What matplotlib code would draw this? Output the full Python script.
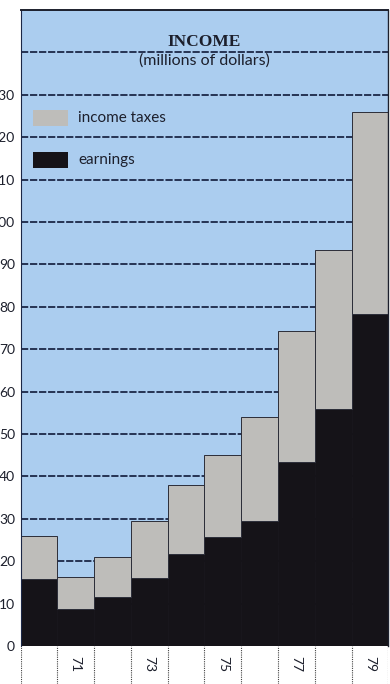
import matplotlib
matplotlib.use("Agg")
import matplotlib.pyplot as plt
from matplotlib.patches import Rectangle
import numpy as np

# Income, millions of dollars, 1970-1979
years = [1970, 1971, 1972, 1973, 1974, 1975, 1976, 1977, 1978, 1979]
earnings = [15.8, 8.8, 11.5, 16.0, 21.8, 25.8, 29.4, 43.4, 55.8, 78.3]
income_taxes = [10.1, 7.5, 9.4, 13.4, 16.2, 19.2, 24.6, 31.0, 37.5, 47.6]
year_labels = ["", "71", "", "73", "", "75", "", "77", "", "79"]
y_ticks = list(range(0, 140, 10))

W, H = 390, 684
BLUE = "#abcdef"
GRAY = "#bebdba"
BLACK = "#151318"
NAVY = "#1b2747"
INK = "#1c1f2c"

fig = plt.figure(figsize=(W / 100, H / 100), dpi=100)
fig.patch.set_facecolor("white")

ax_left, ax_right = 20.5 / W, 388.3 / W
ax_bot, ax_top = (H - 646) / H, (H - 10) / H
ax = fig.add_axes([ax_left, ax_bot, ax_right - ax_left, ax_top - ax_bot])
ax.set_facecolor(BLUE)

x = np.arange(len(years))
ax.set_xlim(-0.5, len(years) - 0.5)
ax.set_ylim(0, 150)

# dashed horizontal rules behind the bars
for v in range(10, 150, 10):
    ax.axhline(v, color=NAVY, lw=1.3, ls=(0, (4, 1)), zorder=1)

ax.bar(x, earnings, width=1.0, color=BLACK, edgecolor=BLACK, lw=0.5, zorder=2)
ax.bar(x, income_taxes, bottom=earnings, width=1.0, color=GRAY,
       edgecolor="#2b2d38", lw=0.7, zorder=2)

ax.set_xticks([])
ax.set_yticks(y_ticks)
ax.set_yticklabels([str(v) for v in y_ticks], fontsize=10, color=INK,
                   family="Lato")
ax.tick_params(axis="y", length=0, pad=4)

ax.spines["top"].set_color(INK)
ax.spines["top"].set_linewidth(1.4)
ax.spines["left"].set_color(NAVY)
ax.spines["left"].set_linewidth(0.8)
ax.spines["left"].set_linestyle((0, (2, 1)))
ax.spines["right"].set_color(INK)
ax.spines["right"].set_linewidth(1.0)
ax.spines["bottom"].set_visible(False)

# title
ax.text(0.5, 140.6, "INCOME", transform=ax.get_yaxis_transform(),
        ha="center", va="bottom", fontsize=12.5, fontweight="bold",
        family="Liberation Serif", color=INK, zorder=3)
ax.text(0.5, 138.0, "(millions of dollars)", transform=ax.get_yaxis_transform(),
        ha="center", va="center", fontsize=11.5, family="Lato", color=INK,
        zorder=3)

# legend
def legend_entry(y_px, color, label):
    fig.add_artist(Rectangle((33 / W, (H - y_px - 8) / H), 35 / W, 16 / H,
                             transform=fig.transFigure, facecolor=color,
                             edgecolor="none"))
    fig.text(78 / W, (H - y_px) / H, label, ha="left", va="center",
             fontsize=11, family="Lato", color=INK)

legend_entry(118, GRAY, "income taxes")
legend_entry(160, BLACK, "earnings")

# year strip beneath the bars
axx = fig.add_axes([ax_left, 0, ax_right - ax_left, ax_bot])
axx.set_xlim(-0.5, len(years) - 0.5)
axx.set_ylim(0, 1)
axx.axis("off")
axx.vlines(np.arange(len(years) + 1) - 0.5, 0, 1, colors="#444444",
           lw=0.8, ls=(0, (1, 1)))
for xi, lab in zip(x, year_labels):
    if lab:
        axx.text(xi, 0.52, lab, rotation=270, ha="center", va="center",
                 fontsize=10, family="Lato", color=INK)

fig.savefig("out.png", dpi=100)
